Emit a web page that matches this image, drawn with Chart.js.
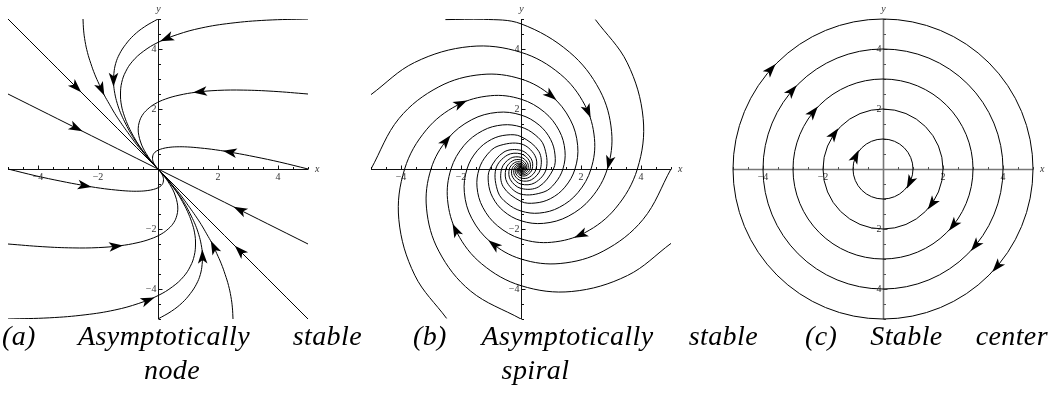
<!DOCTYPE html>
<html>
<head>
<meta charset="utf-8">
<script src="https://cdn.jsdelivr.net/npm/chart.js@4.4.1/dist/chart.umd.min.js"></script>
<style>
  html, body { margin: 0; padding: 0; background: #fff; width: 1051px; height: 405px; overflow: hidden; }
  body { position: relative; }
  canvas { position: absolute; top: 0; }
  .cap { position: absolute; font-family: "Liberation Serif", "DejaVu Serif", serif; font-style: italic;
         font-size: 28px; line-height: 30px; color: #000; letter-spacing: 0.4px; }
  .just { text-align: justify; text-align-last: justify; }
  .mid { text-align: center; }
</style>
</head>
<body>
<canvas id="nodeCanvas" width="340" height="330" style="left:0px"></canvas>
<canvas id="spiralCanvas" width="340" height="330" style="left:350px"></canvas>
<canvas id="centerCanvas" width="351" height="330" style="left:700px"></canvas>

<div class="cap just" style="left:2px; top:321px; width:360px;">(a) Asymptotically stable</div>
<div class="cap mid" style="left:0px; top:355px; width:344px;">node</div>
<div class="cap just" style="left:413px; top:321px; width:345px;">(b) Asymptotically stable</div>
<div class="cap mid" style="left:413px; top:355px; width:245px;">spiral</div>
<div class="cap just" style="left:805px; top:321px; width:243px;">(c) Stable center</div>

<script>
const SERIF = '"Liberation Serif", "DejaVu Serif", serif';

// ---------- axes ----------
const axisRange = [-5, 5];
const axisMajorTicks = [-4, -2, 2, 4];
const axisTickLabels = ['\u22124', '\u22122', '2', '4'];
const axisMinorTicks = [-5, -4.5, -3.5, -3, -2.5, -1.5, -1, -0.5, 0.5, 1, 1.5, 2.5, 3, 3.5, 4.5, 5];
const axisNames = ['x', 'y'];

// ---------- (a) stable node: trajectories [x, y] ----------
const node1 = [[5,5],[3.61,4.96],[2.43,4.86],[1.44,4.70],[0.64,4.48],[0,4.22],[-0.49,3.92],[-0.85,3.59],[-1.08,3.24],[-1.21,2.88],[-1.25,2.5],[-1.22,2.13],[-1.12,1.76],[-0.98,1.41],[-0.81,1.08],[-0.63,0.78],[-0.44,0.52],[-0.27,0.31],[-0.13,0.14],[0,0]];
const node2 = [[5,2.5],[3.84,2.59],[2.84,2.63],[1.99,2.62],[1.28,2.56],[0.70,2.46],[0.245,2.33],[-0.105,2.17],[-0.36,1.98],[-0.53,1.78],[-0.625,1.56],[-0.66,1.34],[-0.64,1.12],[-0.58,0.90],[-0.50,0.70],[-0.39,0.51],[-0.28,0.34],[-0.17,0.20],[-0.085,0.09],[0,0]];
const node3 = [[5,0],[4.06,0.23],[3.24,0.405],[2.53,0.54],[1.92,0.64],[1.41,0.70],[0.98,0.735],[0.63,0.74],[0.36,0.72],[0.15,0.68],[0,0.625],[-0.10,0.56],[-0.16,0.48],[-0.18,0.40],[-0.18,0.315],[-0.16,0.23],[-0.12,0.16],[-0.08,0.095],[-0.04,0.045],[0,0]];
const node4 = [[0,5],[-0.45,4.74],[-0.81,4.455],[-1.08,4.15],[-1.28,3.84],[-1.41,3.52],[-1.47,3.185],[-1.48,2.85],[-1.44,2.52],[-1.36,2.19],[-1.25,1.875],[-1.11,1.57],[-0.96,1.28],[-0.80,1.01],[-0.63,0.765],[-0.47,0.55],[-0.32,0.36],[-0.19,0.21],[-0.09,0.095],[0,0]];
const node5 = [[-2.5,5],[-2.48,4.63],[-2.43,4.25],[-2.35,3.88],[-2.24,3.52],[-2.11,3.16],[-1.96,2.82],[-1.80,2.48],[-1.62,2.16],[-1.44,1.85],[-1.25,1.56],[-1.06,1.29],[-0.88,1.04],[-0.71,0.81],[-0.54,0.61],[-0.39,0.43],[-0.26,0.28],[-0.15,0.16],[-0.07,0.07],[0,0]];
const node6 = [[-5,5],[0,0]];
const node7 = [[-5,2.5],[0,0]];
const node8 = [[-5,-5],[-3.61,-4.96],[-2.43,-4.86],[-1.44,-4.70],[-0.64,-4.48],[0,-4.22],[0.49,-3.92],[0.85,-3.59],[1.08,-3.24],[1.21,-2.88],[1.25,-2.5],[1.22,-2.13],[1.12,-1.76],[0.98,-1.41],[0.81,-1.08],[0.63,-0.78],[0.44,-0.52],[0.27,-0.31],[0.13,-0.14],[0,0]];
const node9 = [[-5,-2.5],[-3.84,-2.59],[-2.84,-2.63],[-1.99,-2.62],[-1.28,-2.56],[-0.70,-2.46],[-0.245,-2.33],[0.105,-2.17],[0.36,-1.98],[0.53,-1.78],[0.625,-1.56],[0.66,-1.34],[0.64,-1.12],[0.58,-0.90],[0.50,-0.70],[0.39,-0.51],[0.28,-0.34],[0.17,-0.20],[0.085,-0.09],[0,0]];
const node10 = [[-5,0],[-4.06,-0.23],[-3.24,-0.405],[-2.53,-0.54],[-1.92,-0.64],[-1.41,-0.70],[-0.98,-0.735],[-0.63,-0.74],[-0.36,-0.72],[-0.15,-0.68],[0,-0.625],[0.10,-0.56],[0.16,-0.48],[0.18,-0.40],[0.18,-0.315],[0.16,-0.23],[0.12,-0.16],[0.08,-0.095],[0.04,-0.045],[0,0]];
const node11 = [[0,-5],[0.45,-4.74],[0.81,-4.455],[1.08,-4.15],[1.28,-3.84],[1.41,-3.52],[1.47,-3.185],[1.48,-2.85],[1.44,-2.52],[1.36,-2.19],[1.25,-1.875],[1.11,-1.57],[0.96,-1.28],[0.80,-1.01],[0.63,-0.765],[0.47,-0.55],[0.32,-0.36],[0.19,-0.21],[0.09,-0.095],[0,0]];
const node12 = [[2.5,-5],[2.48,-4.63],[2.43,-4.25],[2.35,-3.88],[2.24,-3.52],[2.11,-3.16],[1.96,-2.82],[1.80,-2.48],[1.62,-2.16],[1.44,-1.85],[1.25,-1.56],[1.06,-1.29],[0.88,-1.04],[0.71,-0.81],[0.54,-0.61],[0.39,-0.43],[0.26,-0.28],[0.15,-0.16],[0.07,-0.07],[0,0]];
const node13 = [[5,-5],[0,0]];
const node14 = [[5,-2.5],[0,0]];
// arrowheads: [trajectory index, x, y]
const nodeArrows = [[0,0.28,4.36],[1,1.39,2.61],[2,2.39,0.56],[3,-1.5,2.97],[4,-1.94,2.63],[5,-2.72,2.72],[6,-2.72,1.36],
                    [7,-0.33,-4.37],[8,-1.39,-2.59],[9,-2.44,-0.53],[10,1.5,-2.92],[11,1.89,-2.59],[12,2.72,-2.72],[13,2.72,-1.36]];

// ---------- (b) stable spiral: trajectories [x, y] ----------
const spiral1 = [[-5,0],[-4.066,1.684],[-2.739,2.739],[-1.305,3.150],[0,3],[1.010,2.439],[1.643,1.643],[1.889,0.783],[1.8,0],[1.463,-0.606],[0.986,-0.986],[0.470,-1.134],[0,-1.08],[-0.592,-0.592],[-0.648,0],[-0.355,0.355],[0,0.389],[0.213,0.213],[0.233,0],[0.128,-0.128],[0,-0.14],[-0.076,-0.076],[-0.084,0],[-0.046,0.046],[0,0.05],[0.028,0.028],[0.03,0]];
const spiral2 = [[5,0],[4.066,-1.684],[2.739,-2.739],[1.305,-3.150],[0,-3],[-1.010,-2.439],[-1.643,-1.643],[-1.889,-0.783],[-1.8,0],[-1.463,0.606],[-0.986,0.986],[-0.470,1.134],[0,1.08],[0.592,0.592],[0.648,0],[0.355,-0.355],[0,-0.389],[-0.213,-0.213],[-0.233,0],[-0.128,0.128],[0,0.14],[0.076,0.076],[0.084,0],[0.046,-0.046],[0,-0.05],[-0.028,-0.028],[-0.03,0]];
const spiral3 = [[0,-5],[-1.684,-4.066],[-2.739,-2.739],[-3.150,-1.305],[-3,0],[-2.439,1.010],[-1.643,1.643],[-0.783,1.889],[0,1.8],[0.606,1.463],[0.986,0.986],[1.134,0.470],[1.08,0],[0.592,-0.592],[0,-0.648],[-0.355,-0.355],[-0.389,0],[-0.213,0.213],[0,0.233],[0.128,0.128],[0.14,0],[0.076,-0.076],[0,-0.084],[-0.046,-0.046],[-0.05,0],[-0.028,0.028],[0,0.03]];
const spiral4 = [[-5,2.48],[-3.550,3.550],[-1.691,4.083],[0,3.889],[1.310,3.162],[2.130,2.130],[2.449,1.015],[2.334,0],[1.898,-0.786],[1.278,-1.278],[0.609,-1.470],[0,-1.4],[-0.471,-1.138],[-0.767,-0.767],[-0.84,0],[-0.46,0.46],[0,0.504],[0.276,0.276],[0.302,0],[0.165,-0.165],[0,-0.181],[-0.099,-0.099],[-0.109,0],[-0.059,0.059],[0,0.065],[0.035,0.035],[0.039,0]];
const spiral5 = [[-2.52,4.98],[-1.25,4.99],[0,4.84],[1.614,3.897],[2.625,2.625],[3.019,1.251],[2.876,0],[2.338,-0.969],[1.575,-1.575],[0.750,-1.812],[0,-1.726],[-0.581,-1.403],[-0.945,-0.945],[-1.087,-0.450],[-1.035,0],[-0.567,0.567],[0,0.621],[0.34,0.34],[0.373,0],[0.204,-0.204],[0,-0.224],[-0.122,-0.122],[-0.134,0],[-0.074,0.074],[0,0.081],[0.044,0.044],[0.048,0]];
const spiral6 = [[2.48,4.98],[3.541,3.541],[4.072,1.687],[3.879,0],[3.154,-1.307],[2.125,-2.125],[1.012,-2.443],[0,-2.328],[-0.784,-1.893],[-1.275,-1.275],[-1.466,-0.607],[-1.397,0],[-1.135,0.470],[-0.765,0.765],[0,0.838],[0.459,0.459],[0.503,0],[0.276,-0.276],[0,-0.302],[-0.165,-0.165],[-0.181,0],[-0.099,0.099],[0,0.109],[0.059,0.059],[0.065,0],[0.035,-0.035],[0,-0.039]];
const spiral7 = [[5,-2.48],[3.550,-3.550],[1.691,-4.083],[0,-3.889],[-1.310,-3.162],[-2.130,-2.130],[-2.449,-1.015],[-2.334,0],[-1.898,0.786],[-1.278,1.278],[-0.609,1.470],[0,1.4],[0.471,1.138],[0.767,0.767],[0.84,0],[0.46,-0.46],[0,-0.504],[-0.276,-0.276],[-0.302,0],[-0.165,0.165],[0,0.181],[0.099,0.099],[0.109,0],[0.059,-0.059],[0,-0.065],[-0.035,-0.035],[-0.039,0]];
const spiral8 = [[-2.48,-4.98],[-3.541,-3.541],[-4.072,-1.687],[-3.879,0],[-3.154,1.307],[-2.125,2.125],[-1.012,2.443],[0,2.328],[0.784,1.893],[1.275,1.275],[1.466,0.607],[1.397,0],[1.135,-0.470],[0.765,-0.765],[0,-0.838],[-0.459,-0.459],[-0.503,0],[-0.276,0.276],[0,0.302],[0.165,0.165],[0.181,0],[0.099,-0.099],[0,-0.109],[-0.059,-0.059],[-0.065,0],[-0.035,0.035],[0,0.039]];
const spiralArrows = [[7,-2.02,2.2],[2,-2.47,0.92],[0,0.98,2.42],[3,2.2,1.92],[4,2.96,0.2],[5,1.98,-2.19],[1,-0.91,-2.52],[6,-2.13,-2.02]];

// ---------- (c) stable center: closed orbits ----------
const centerRadii = [1, 2, 3, 4, 5];
const centerArrows = [[0,-0.94,0.44],[0,0.94,-0.47],[1,-1.67,1.2],[1,1.67,-1.19],[2,-2.28,1.87],[2,2.39,-1.91],
                      [3,-3.06,2.64],[3,3.11,-2.58],[4,-3.72,3.31],[4,3.78,-3.24]];

// ---------- plugins ----------
const originAxes = {
  id: 'originAxes',
  beforeDatasetsDraw(chart, args, o) {
    const ctx = chart.ctx, xs = chart.scales.x, ys = chart.scales.y;
    const X = v => xs.getPixelForValue(v), Y = v => ys.getPixelForValue(v);
    const x0 = Math.round(X(0)) + 0.5, y0 = Math.round(Y(0)) + 0.5;
    ctx.save();
    ctx.strokeStyle = o.color; ctx.lineWidth = o.width;
    ctx.beginPath();
    ctx.moveTo(X(axisRange[0]), y0); ctx.lineTo(X(axisRange[1]), y0);
    ctx.moveTo(x0, Y(axisRange[0])); ctx.lineTo(x0, Y(axisRange[1]));
    ctx.stroke();
    ctx.strokeStyle = o.tickColor; ctx.lineWidth = 1;
    ctx.beginPath();
    const tick = (v, len) => {
      const px = Math.round(X(v)) + 0.5, py = Math.round(Y(v)) + 0.5;
      ctx.moveTo(px, y0); ctx.lineTo(px, y0 - len);
      ctx.moveTo(x0, py); ctx.lineTo(x0 + len, py);
    };
    axisMinorTicks.forEach(v => tick(v, 2.5));
    axisMajorTicks.forEach(v => tick(v, 4));
    ctx.stroke();
    ctx.fillStyle = o.labelColor;
    ctx.font = '10px ' + SERIF;
    axisMajorTicks.forEach((v, i) => {
      ctx.textAlign = 'center'; ctx.textBaseline = 'top';
      ctx.fillText(axisTickLabels[i], X(v), y0 + 3);
      ctx.textAlign = 'right'; ctx.textBaseline = 'middle';
      ctx.fillText(axisTickLabels[i], x0 - 2, Y(v));
    });
    ctx.font = 'italic 10px ' + SERIF;
    ctx.textAlign = 'left'; ctx.textBaseline = 'middle';
    ctx.fillText(axisNames[0], X(axisRange[1]) + 7, y0);
    ctx.textAlign = 'center'; ctx.textBaseline = 'bottom';
    ctx.fillText(axisNames[1], x0, Y(axisRange[1]) - 5);
    ctx.restore();
  }
};

function drawHead(ctx, x, y, ux, uy) {
  const L = 14, W = 4.8, N = 3.5;
  const nx = -uy, ny = ux;
  const bx = x - ux * L / 2, by = y - uy * L / 2;
  ctx.beginPath();
  ctx.moveTo(x + ux * L / 2, y + uy * L / 2);
  ctx.lineTo(bx + nx * W, by + ny * W);
  ctx.lineTo(bx + ux * N, by + uy * N);
  ctx.lineTo(bx - nx * W, by - ny * W);
  ctx.closePath();
  ctx.fill();
}

const arrowHeads = {
  id: 'arrowHeads',
  afterDatasetsDraw(chart, args, o) {
    const ctx = chart.ctx, xs = chart.scales.x, ys = chart.scales.y;
    ctx.save();
    ctx.fillStyle = '#000';
    o.items.forEach(([ds, vx, vy]) => {
      const tx = xs.getPixelForValue(vx), ty = ys.getPixelForValue(vy);
      if (o.rings) {
        const cx = xs.getPixelForValue(0), cy = ys.getPixelForValue(0);
        const R = xs.getPixelForValue(o.rings[ds]) - cx;
        const phi = Math.atan2(ty - cy, tx - cx);
        drawHead(ctx, cx + R * Math.cos(phi), cy + R * Math.sin(phi), -Math.sin(phi), Math.cos(phi));
        return;
      }
      const pts = chart.getDatasetMeta(ds).data;
      let best = null;
      for (let i = 0; i < pts.length - 1; i++) {
        const p0 = pts[i], p3 = pts[i + 1];
        const c1x = p0.cp2x ?? p0.x, c1y = p0.cp2y ?? p0.y;
        const c2x = p3.cp1x ?? p3.x, c2y = p3.cp1y ?? p3.y;
        for (let t = 0.01; t < 1; t += 0.02) {
          const m = 1 - t;
          const bx = m*m*m*p0.x + 3*m*m*t*c1x + 3*m*t*t*c2x + t*t*t*p3.x;
          const by = m*m*m*p0.y + 3*m*m*t*c1y + 3*m*t*t*c2y + t*t*t*p3.y;
          const d = (bx - tx) ** 2 + (by - ty) ** 2;
          if (!best || d < best.d) {
            const dx = 3*m*m*(c1x - p0.x) + 6*m*t*(c2x - c1x) + 3*t*t*(p3.x - c2x);
            const dy = 3*m*m*(c1y - p0.y) + 6*m*t*(c2y - c1y) + 3*t*t*(p3.y - c2y);
            best = { d, bx, by, dx, dy };
          }
        }
      }
      const len = Math.hypot(best.dx, best.dy) || 1;
      drawHead(ctx, best.bx, best.by, best.dx / len, best.dy / len);
    });
    ctx.restore();
  }
};

function trajectory(points, tension) {
  return { data: points, showLine: true, borderColor: '#000', borderWidth: 1, tension,
           pointRadius: 0, pointHoverRadius: 0, fill: false };
}

function panel(id, datasets, padding, axes, arrows) {
  return new Chart(document.getElementById(id), {
    type: 'scatter',
    data: { datasets },
    options: {
      responsive: false, animation: false, events: [],
      layout: { padding },
      scales: {
        x: { type: 'linear', min: axisRange[0], max: axisRange[1], display: false },
        y: { type: 'linear', min: axisRange[0], max: axisRange[1], display: false }
      },
      plugins: { legend: { display: false }, tooltip: { enabled: false }, originAxes: axes, arrowHeads: arrows }
    },
    plugins: [originAxes, arrowHeads]
  });
}

const blackAxes = { color: '#111', width: 1, tickColor: '#111', labelColor: '#333' };

// (a)
panel('nodeCanvas',
  [node1, node2, node3, node4, node5, node6, node7, node8, node9, node10, node11, node12, node13, node14]
    .map(p => trajectory(p, 0.4)),
  { left: 8, top: 19, right: 32, bottom: 11 }, blackAxes, { items: nodeArrows });

// (b)
panel('spiralCanvas',
  [spiral1, spiral2, spiral3, spiral4, spiral5, spiral6, spiral7, spiral8].map(p => trajectory(p, 0.36)),
  { left: 21, top: 19, right: 19, bottom: 11 }, blackAxes, { items: spiralArrows });

// (c)
panel('centerCanvas',
  [{
    data: centerRadii.map(r => ({ x: 0, y: 0, r })),
    showLine: false, clip: false,
    pointRadius: c => c.chart.scales.x.getPixelForValue(c.raw.r) - c.chart.scales.x.getPixelForValue(0),
    pointHoverRadius: 0,
    pointBackgroundColor: 'rgba(0,0,0,0)', pointBorderColor: '#000', pointBorderWidth: 1
  }],
  { left: 33, top: 19, right: 18, bottom: 11 },
  { color: '#777', width: 1.6, tickColor: '#555', labelColor: '#333' },
  { items: centerArrows, rings: centerRadii });
</script>
</body>
</html>
